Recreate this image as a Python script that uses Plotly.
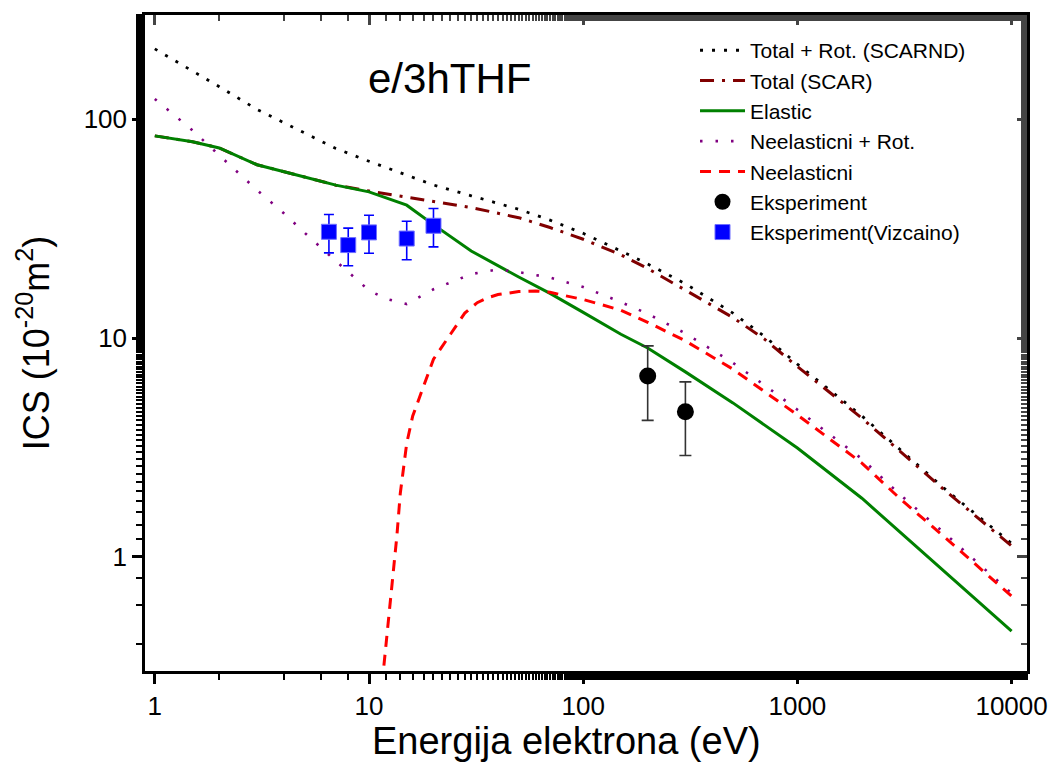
import numpy as np
import plotly.graph_objects as go

# ---------------- data ----------------
E_tot = [1, 1.5, 2, 3, 5, 7, 10, 15, 20, 30, 50, 70, 100, 150, 200, 300, 500, 700,
         1000, 2000, 3000, 5000, 10000]
total_rot = [210, 167, 141, 111, 87, 73.6, 64.3, 55.6, 50.1, 44.7, 38.8, 34.6, 30.1, 25.0,
             21.8, 17.7, 13.0, 10.2, 7.6, 4.4, 3.1, 2.0, 1.15]
total_scar = [84, 79, 74, 62, 54.5, 50, 47, 44, 42, 39.5, 35.5, 32, 28.3, 24.0,
              20.8, 16.6, 12.4, 9.9, 7.4, 4.3, 3.05, 1.97, 1.12]

E_el = [1, 1.5, 2, 3, 5, 7, 10, 15, 20, 30, 50, 70, 100, 150, 200, 300, 500, 1000,
        2000, 10000]
elastic = [84, 79, 74, 62, 54.5, 50, 46.6, 40.5, 33, 25, 19, 16, 13.1, 10.4, 9.0, 7.0,
           5.05, 3.14, 1.85, 0.456]

E_inr = [1, 1.5, 2, 3, 4, 5, 7, 10, 12, 15, 20, 25, 30, 40, 50, 70, 100, 150, 200, 300,
         500, 700, 1000, 2000, 3000, 5000, 10000]
inel_rot = [124, 89, 68.5, 47.5, 37.2, 30.3, 22.5, 16.5, 15.1, 14.3, 16.7, 18.3, 19.6,
            20.6, 20.0, 18.9, 17.1, 14.6, 12.9, 10.5, 7.7, 6.1, 4.7, 2.8, 1.93, 1.25, 0.68]

E_in = [11.5, 12, 12.5, 13, 13.5, 14, 15, 16, 17.5, 19, 20, 24, 28, 32, 36, 40, 50, 60,
        70, 80, 100, 150, 200, 300, 500, 700, 1000, 2000, 3000, 5000, 10000]
inel = [0.26, 0.40, 0.57, 0.85, 1.25, 1.95, 3.3, 4.4, 5.6, 7.1, 8.0, 10.4, 13.0, 14.5,
        15.3, 15.8, 16.3, 16.4, 16.2, 15.7, 15.0, 13.4, 11.8, 9.7, 7.2, 5.7, 4.45, 2.68,
        1.85, 1.2, 0.66]

E_exp = [200, 300]
exp_val = [6.7, 4.6]
exp_err = [2.5, 1.7]

E_viz = [6.5, 8, 10, 15, 20]
viz_val = [30.6, 26.6, 30.4, 28.5, 32.6]
viz_err = [6.1, 5.2, 6.0, 5.7, 6.5]

x_ticks = [1, 10, 100, 1000, 10000]
x_ticklabels = ["1", "10", "100", "1000", "10000"]
y_ticks = [1, 10, 100]
y_ticklabels = ["1", "10", "100"]

FONT = "Liberation Sans, Arial, sans-serif"

fig = go.Figure()

fig.add_trace(go.Scatter(x=E_tot, y=total_rot, mode="lines", name="Total + Rot. (SCARND)",
                         line=dict(color="black", width=2.8, dash="3px,9px")))
fig.add_trace(go.Scatter(x=E_tot, y=total_scar, mode="lines", name="Total (SCAR)",
                         line=dict(color="#800000", width=3, dash="14px,8px,3px,8px")))
fig.add_trace(go.Scatter(x=E_el, y=elastic, mode="lines", name="Elastic",
                         line=dict(color="#008000", width=3)))
fig.add_trace(go.Scatter(x=E_inr, y=inel_rot, mode="lines", name="Neelasticni + Rot.",
                         line=dict(color="#800080", width=2.6, dash="2.5px,13px")))
fig.add_trace(go.Scatter(x=E_in, y=inel, mode="lines", name="Neelasticni",
                         line=dict(color="#ff0000", width=3, dash="11px,8px")))
fig.add_trace(go.Scatter(x=E_exp, y=exp_val, mode="markers", name="Eksperiment",
                         marker=dict(symbol="circle", size=17, color="black"),
                         error_y=dict(type="data", array=exp_err, color="#333333",
                                      thickness=1.6, width=6)))
fig.add_trace(go.Scatter(x=E_viz, y=viz_val, mode="markers", name="Eksperiment(Vizcaino)",
                         marker=dict(symbol="square", size=15, color="#0000ff",
                                     line=dict(color="#6f6fff", width=1)),
                         error_y=dict(type="data", array=viz_err, color="#0000ff",
                                      thickness=1.6, width=5)))
# helper trace so the mirrored (top/right) frame axes exist
fig.add_trace(go.Scatter(x=[1], y=[1], xaxis="x2", yaxis="y2", mode="lines",
                         showlegend=False, hoverinfo="skip"))

xr = [np.log10(0.9), np.log10(11800)]
yr = [np.log10(0.3), np.log10(300)]

fig.update_layout(
    width=1050, height=765,
    margin=dict(l=145, r=23, t=15, b=94, autoexpand=False),
    paper_bgcolor="white", plot_bgcolor="white",
    font=dict(family=FONT, color="black"),
    showlegend=True,
    legend=dict(x=0.6236, y=0.977, xanchor="left", yanchor="top",
                bgcolor="rgba(0,0,0,0)", font=dict(size=21, family=FONT),
                itemwidth=45, tracegroupgap=0, traceorder="normal"),
    xaxis=dict(type="log", range=xr, showgrid=False, zeroline=False, automargin=False,
               showline=True, linecolor="black", linewidth=2.5,
               ticks="outside", ticklen=10, tickwidth=2.5, tickcolor="black",
               tickvals=x_ticks, ticktext=x_ticklabels,
               tickfont=dict(size=26, family=FONT),
               minor=dict(ticks="outside", ticklen=6, tickwidth=2, tickcolor="black",
                          showgrid=False)),
    yaxis=dict(type="log", range=yr, showgrid=False, zeroline=False, automargin=False,
               showline=True, linecolor="black", linewidth=2.5,
               ticks="outside", ticklen=10, tickwidth=2.5, tickcolor="black",
               tickvals=y_ticks, ticktext=y_ticklabels,
               tickfont=dict(size=26, family=FONT),
               minor=dict(ticks="outside", ticklen=6, tickwidth=2, tickcolor="black",
                          showgrid=False),
               title=dict(text="ICS (10<sup>-20</sup>m<sup>2</sup>)",
                          font=dict(size=36, family=FONT), standoff=24)),
    xaxis2=dict(type="log", range=xr, overlaying="x", side="top", anchor="y2",
                automargin=False,
                showgrid=False, zeroline=False, showline=True, linecolor="black",
                linewidth=2.5, ticks="inside", ticklen=10, tickwidth=2.5,
                tickvals=x_ticks, showticklabels=False,
                minor=dict(ticks="inside", ticklen=6, tickwidth=2, showgrid=False)),
    yaxis2=dict(type="log", range=yr, overlaying="y", side="right", anchor="x2",
                automargin=False,
                showgrid=False, zeroline=False, showline=True, linecolor="black",
                linewidth=2.5, ticks="inside", ticklen=10, tickwidth=2.5,
                tickvals=y_ticks, showticklabels=False,
                minor=dict(ticks="inside", ticklen=6, tickwidth=2, showgrid=False)),
    annotations=[
        dict(text="e/3hTHF", x=0.345, y=0.903, xref="paper", yref="paper",
             xanchor="center", yanchor="middle", showarrow=False,
             font=dict(size=42, family=FONT, color="black")),
        dict(text="Energija elektrona (eV)", x=0.478, y=-0.0715, xref="paper", yref="paper",
             xanchor="center", yanchor="top", showarrow=False,
             font=dict(size=38, family=FONT, color="black")),
    ],
)

fig.write_html("out.html")
